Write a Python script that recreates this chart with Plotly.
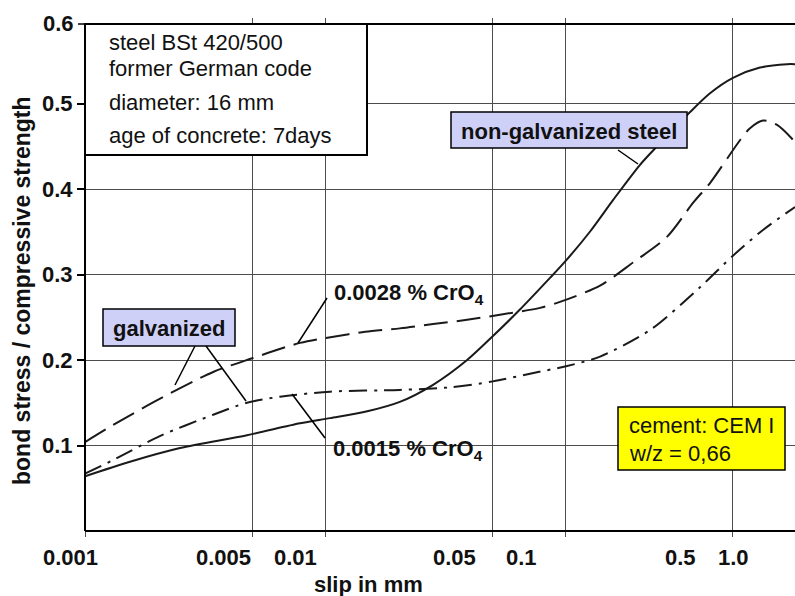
import math
import plotly.graph_objects as go

# ---------------- data ----------------
slip_nongalv = [0.001, 0.00154, 0.00249, 0.00473, 0.00787, 0.0105, 0.015, 0.0205, 0.0282,
                0.0391, 0.0501, 0.0649, 0.0866, 0.1, 0.127, 0.1585, 0.205, 0.242, 0.332,
                0.402, 0.501, 0.649, 0.841, 0.909]
ratio_nongalv = [0.064, 0.081, 0.097, 0.112, 0.126, 0.132, 0.140, 0.151, 0.171,
                 0.200, 0.228, 0.259, 0.296, 0.315, 0.350, 0.387, 0.428, 0.450, 0.490,
                 0.512, 0.530, 0.542, 0.546, 0.546]

slip_0028 = [0.001, 0.00131, 0.002, 0.00342, 0.00497, 0.00787, 0.0107, 0.0147, 0.0205,
             0.0282, 0.0391, 0.0536, 0.0787, 0.0953, 0.140, 0.192, 0.266, 0.342, 0.402,
             0.536, 0.590, 0.668, 0.765, 0.909]
ratio_0028 = [0.104, 0.124, 0.153, 0.186, 0.202, 0.220, 0.227, 0.233, 0.237,
              0.242, 0.247, 0.253, 0.261, 0.268, 0.287, 0.314, 0.344, 0.384, 0.407,
              0.457, 0.471, 0.480, 0.475, 0.455]

slip_0015 = [0.001, 0.00131, 0.00205, 0.00342, 0.00473, 0.00649, 0.0105, 0.0205, 0.0332,
             0.0501, 0.0715, 0.102, 0.140, 0.226, 0.365, 0.501, 0.668, 0.909]
ratio_0015 = [0.067, 0.083, 0.111, 0.136, 0.150, 0.157, 0.163, 0.165, 0.168,
              0.175, 0.184, 0.193, 0.204, 0.235, 0.285, 0.322, 0.352, 0.379]

x_grid_values = [0.001, 0.005, 0.01, 0.05, 0.1, 0.5]
x_tick_labels = ["0.001", "0.005", "0.01", "0.05", "0.1", "0.5", "1.0"]
y_tick_values = [0.1, 0.2, 0.3, 0.4, 0.5]
y_tick_labels = ["0.1", "0.2", "0.3", "0.4", "0.5"]
y_top_label = "0.6"

info_lines = ["steel BSt 420/500", "former German code", "diameter: 16 mm",
              "age of concrete: 7days"]
cement_lines = ["cement: CEM I", "w/z = 0,66"]

# ---------------- layout geometry ----------------
W, H = 795, 596
L, RGT, T, B = 85, 795, 18, 531
X_MAX = 0.001 * 10 ** ((RGT - L) / 240.0)

def px(x):
    return (x - L) / (RGT - L)

def py(y):
    return (B - y) / (B - T)

FONT = "Liberation Sans, Arial, Helvetica, sans-serif"
INK = "#111111"
CURVE = "#1a1a1a"
GRID = "#4d4d4d"

fig = go.Figure()
fig.add_trace(go.Scatter(x=slip_nongalv, y=ratio_nongalv, mode="lines",
                         line=dict(color=CURVE, width=2, shape="spline", smoothing=0.8),
                         name="non-galvanized steel", showlegend=False))
fig.add_trace(go.Scatter(x=slip_0028, y=ratio_0028, mode="lines",
                         line=dict(color=CURVE, width=2, shape="spline", smoothing=0.8,
                                   dash="24px,9px"),
                         name="0.0028 % CrO4", showlegend=False))
fig.add_trace(go.Scatter(x=slip_0015, y=ratio_0015, mode="lines",
                         line=dict(color=CURVE, width=2, shape="spline", smoothing=0.8,
                                   dash="18px,7px,3px,7px"),
                         name="0.0015 % CrO4", showlegend=False))

shapes = []

def rect(x0, y0, x1, y1, fill, line_w=0, layer="above"):
    shapes.append(dict(type="rect", xref="paper", yref="paper",
                       x0=px(x0), x1=px(x1), y0=py(y1), y1=py(y0),
                       fillcolor=fill, layer=layer,
                       line=dict(color="black" if line_w else "rgba(0,0,0,0)",
                                 width=line_w)))

def seg(x0, y0, x1, y1, w=1.5, color="black"):
    shapes.append(dict(type="line", xref="paper", yref="paper",
                       x0=px(x0), x1=px(x1), y0=py(y0), y1=py(y1), layer="above",
                       line=dict(color=color, width=w)))

# white clearings that hide grid lines (below the curves)
rect(86, 19, 379, 218, "white", layer="between")
rect(447, 107, 692, 158, "white", layer="between")
rect(330, 436, 493, 462, "white", layer="between")
rect(618, 393, 793, 480, "white", layer="between")

# boxes
rect(85, 24, 367, 155, "white", line_w=2)
rect(451, 112, 687, 148, "#cfd0f8", line_w=1.5)
rect(103, 309, 235, 346, "#cfd0f8", line_w=1.5)
rect(618, 407, 785, 470, "#ffff00", line_w=1.5)

# leader lines
seg(618, 150, 638, 164)
seg(195, 346, 175, 385)
seg(206, 346, 246, 401)
seg(327, 298, 298, 343)
seg(292, 394, 325, 438)

# frame
seg(85, 24, 85, 531, w=2)
seg(85, 24, 795, 24, w=2)
seg(85, 531, 795, 531, w=2)
seg(78, 24, 85, 24, w=1.5)

annotations = []

def text(s, x, y, size=22, bold=False, xanchor="center", angle=0):
    annotations.append(dict(text=f"<b>{s}</b>" if bold else s, xref="paper", yref="paper",
                            x=px(x), y=py(y), xanchor=xanchor, yanchor="middle",
                            showarrow=False, textangle=angle,
                            font=dict(family=FONT, size=size, color=INK)))

x_label_px = [70, 223, 295, 454, 521, 680, 733]
for lab, xp in zip(x_tick_labels, x_label_px):
    text(lab, xp, 557, bold=True)
text(y_top_label, 76, 23, bold=True, xanchor="right")
text("slip in mm", 368, 585, bold=True)
text("bond stress / compressive strength", 22, 291, size=23, bold=True, angle=-90)

for s, yy in zip(info_lines, [42, 68, 102, 135]):
    text(s, 107, yy, xanchor="left")
for s, yy in zip(cement_lines, [425, 453]):
    text(s, 627, yy, xanchor="left")

text("non-galvanized steel", 569, 131, bold=True)
text("galvanized", 169, 328, bold=True)
text("0.0028 % CrO<sub>4</sub>", 409, 294, bold=True)
text("0.0015 % CrO<sub>4</sub>", 408, 450, bold=True)

fig.update_layout(
    width=W, height=H,
    margin=dict(l=L, r=W - RGT, t=T, b=H - B, autoexpand=False),
    paper_bgcolor="white", plot_bgcolor="white",
    font=dict(family=FONT, color=INK),
    shapes=shapes, annotations=annotations,
    xaxis=dict(type="log", range=[-3, math.log10(X_MAX)],
               tickvals=x_grid_values, showticklabels=False,
               ticks="outside", ticklen=5, tickwidth=1.3, tickcolor=GRID,
               showgrid=True, gridcolor=GRID, gridwidth=1.3,
               showline=False, zeroline=False, automargin=False),
    yaxis=dict(range=[0, 0.6], tickvals=y_tick_values, ticktext=y_tick_labels,
               ticks="outside", ticklen=7, tickwidth=1.5, tickcolor="black",
               tickfont=dict(family=FONT, size=22, color=INK, weight="bold"),
               showgrid=True, gridcolor=GRID, gridwidth=1.3,
               showline=False, zeroline=False, automargin=False),
)

fig.write_html("out.html", config={"displayModeBar": False},
               post_script="document.body.style.margin='0px';document.body.style.overflow='hidden';")
